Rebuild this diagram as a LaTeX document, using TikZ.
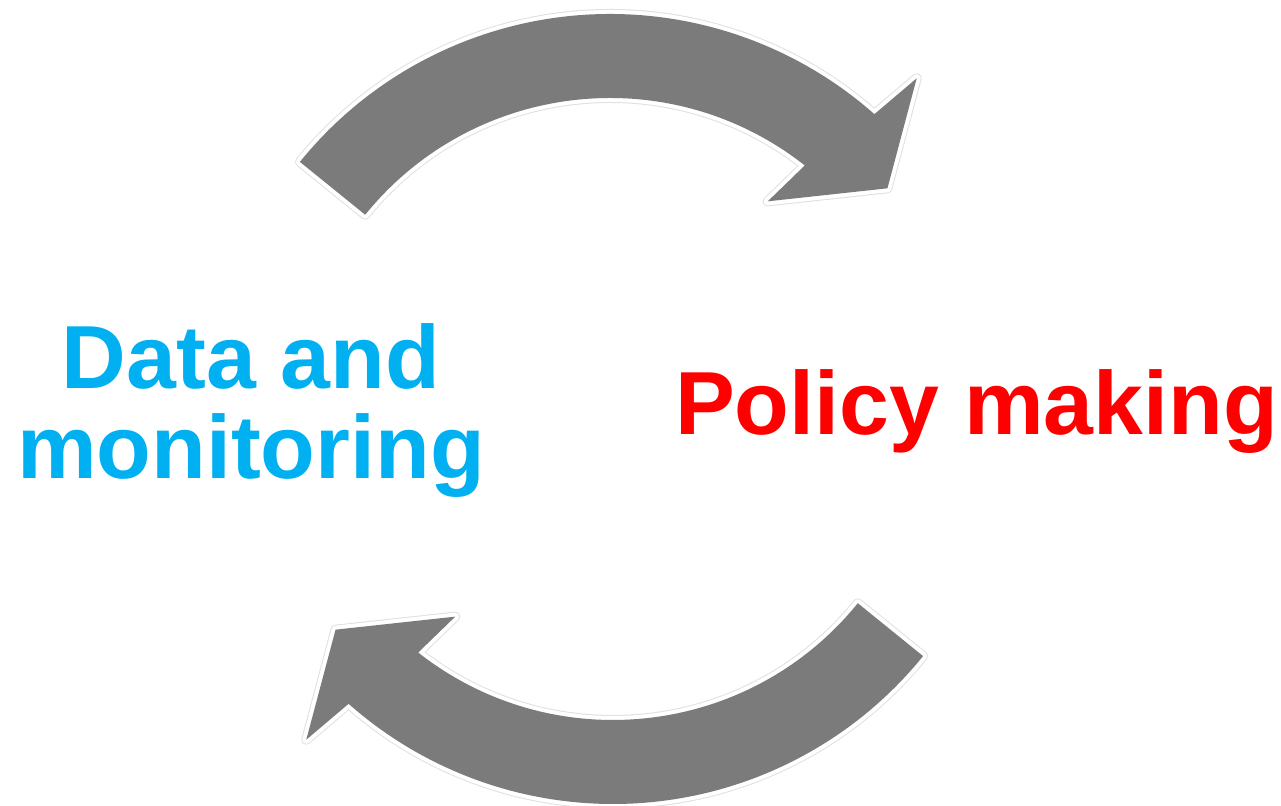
\documentclass[tikz,border=0pt]{standalone}
\usepackage{fontspec}
\setmainfont{Liberation Sans}
\usetikzlibrary{calc}
\definecolor{arrowgray}{HTML}{7B7B7B}
\definecolor{datacyan}{HTML}{00B0F0}
\definecolor{policyred}{HTML}{FF0000}
\tikzset{
	cyclearrow/.style={
		preaction={draw=black!12, line width=0.2cm, line join=round},
		preaction={draw=white, line width=0.16cm, line join=round},
		fill=arrowgray},
	bigtext/.style={font=\bfseries\fontsize{51}{51.6}\selectfont, inner sep=0pt}
}
\def\curvedarrow(#1)(#2){\begin{scope}[shift={(#1)}, rotate=#2]
	\path[cyclearrow] (141:7.98) arc[start angle=141, end angle=48.5, radius=7.98]
		-- (47.5:9.08) -- (39:7.14) -- (53.3:5.28) -- (51.8:6.30)
		arc[start angle=51.8, end angle=141, radius=6.30] -- cycle;
	\end{scope}}

\begin{document}
\begin{tikzpicture}
			%%%%% START %%%%%
			
			\useasboundingbox (0, 0) rectangle (25.62, 16.12);
			
			\curvedarrow(12.20, 7.86)(0)
			\curvedarrow(12.26, 8.02)(180)
			
			\node[bigtext, text=datacyan, align=center, anchor=north] (data) at (5.02, 9.66) {Data and\\monitoring};
			\node[bigtext, text=policyred, anchor=base] (policy) at (19.53, 7.42) {Policy making};
			
			%%%%% END %%%%%
		\end{tikzpicture}
\end{document}
